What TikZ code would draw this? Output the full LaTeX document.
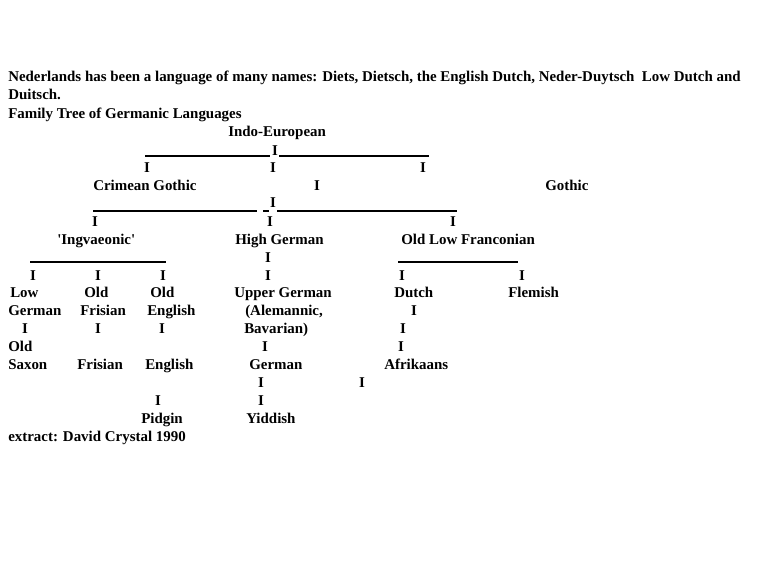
\documentclass[tikz,border=0pt]{standalone}
\usepackage{fontspec}
\setmainfont{Liberation Serif}[Ligatures=TeXOff]
\begin{document}
\begin{tikzpicture}[x=0.75pt,y=-0.75pt,
  txt/.style={anchor=base west, inner sep=0pt, font=\bfseries\fontsize{11.2}{13}\selectfont},
  bar/.style={txt, anchor=base},
  rule/.style={line width=0.8pt}]
\useasboundingbox[fill=white] (0,0) rectangle (768,576);
% header
\node[txt] (h1) at (8,81) {Nederlands has been a language of many names: Diets, Dietsch, the English Dutch, Neder-Duytsch\ \ Low Dutch and};
\node[txt] (h2) at (8,99) {Duitsch.};
\node[txt] (h3) at (8,118) {Family Tree of Germanic Languages};
% row 4
\node[txt] (ie) at (228,136) {Indo-European};
% row 5
\coordinate (l5a) at (145,156); \coordinate (l5b) at (270,156);
\node[bar] (i5) at (275,155) {I};
\coordinate (l5c) at (279,156); \coordinate (l5d) at (429,156);
\draw[rule] (l5a) -- (l5b); \draw[rule] (l5c) -- (l5d);
% row 6
\node[bar] (i6a) at (147,172) {I};
\node[bar] (i6b) at (273,172) {I};
\node[bar] (i6c) at (423,172) {I};
% row 7
\node[txt] (cg) at (93,190) {Crimean Gothic};
\node[bar] (i7) at (317,190) {I};
\node[txt] (go) at (545,190) {Gothic};
% row 8
\coordinate (l8a) at (93,211); \coordinate (l8b) at (257,211);
\coordinate (l8c) at (263,211); \coordinate (l8d) at (269,211);
\node[bar] (i8) at (273,207) {I};
\coordinate (l8e) at (277,211); \coordinate (l8f) at (457,211);
\draw[rule] (l8a) -- (l8b); \draw[rule] (l8c) -- (l8d); \draw[rule] (l8e) -- (l8f);
% row 9
\node[bar] (i9a) at (95,226) {I};
\node[bar] (i9b) at (270,226) {I};
\node[bar] (i9c) at (453,226) {I};
% row 10
\node[txt] (ing) at (57,244) {'Ingvaeonic'};
\node[txt] (hg) at (235,244) {High German};
\node[txt] (olf) at (401,244) {Old Low Franconian};
% row 11
\coordinate (l11a) at (30,262); \coordinate (l11b) at (166,262);
\node[bar] (i11) at (268,262) {I};
\coordinate (l11c) at (398,262); \coordinate (l11d) at (518,262);
\draw[rule] (l11a) -- (l11b); \draw[rule] (l11c) -- (l11d);
% row 12
\node[bar] (i12a) at (33,280) {I};
\node[bar] (i12b) at (98,280) {I};
\node[bar] (i12c) at (163,280) {I};
\node[bar] (i12d) at (268,280) {I};
\node[bar] (i12e) at (402,280) {I};
\node[bar] (i12f) at (522,280) {I};
% row 13
\node[txt] (low) at (10,297) {Low};
\node[txt] (old1) at (84,297) {Old};
\node[txt] (old2) at (150,297) {Old};
\node[txt] (ug) at (234,297) {Upper German};
\node[txt] (du) at (394,297) {Dutch};
\node[txt] (fl) at (508,297) {Flemish};
% row 14
\node[txt] (ger) at (8,315) {German};
\node[txt] (fr1) at (80,315) {Frisian};
\node[txt] (en1) at (147,315) {English};
\node[txt] (ale) at (245,315) {(Alemannic,};
\node[bar] (i14) at (414,315) {I};
% row 15
\node[bar] (i15a) at (25,333) {I};
\node[bar] (i15b) at (98,333) {I};
\node[bar] (i15c) at (162,333) {I};
\node[txt] (bav) at (244,333) {Bavarian)};
\node[bar] (i15d) at (403,333) {I};
% row 16
\node[txt] (old3) at (8,351) {Old};
\node[bar] (i16a) at (265,351) {I};
\node[bar] (i16b) at (401,351) {I};
% row 17
\node[txt] (sax) at (8,369) {Saxon};
\node[txt] (fr2) at (77,369) {Frisian};
\node[txt] (en2) at (145,369) {English};
\node[txt] (gm) at (249,369) {German};
\node[txt] (afr) at (384,369) {Afrikaans};
% row 18
\node[bar] (i18a) at (261,387) {I};
\node[bar] (i18b) at (362,387) {I};
% row 19
\node[bar] (i19a) at (158,405) {I};
\node[bar] (i19b) at (261,405) {I};
% row 20
\node[txt] (pid) at (141,423) {Pidgin};
\node[txt] (yid) at (246,423) {Yiddish};
% row 21
\node[txt] (src) at (8,441) {extract: David Crystal 1990};
\end{tikzpicture}
\end{document}
